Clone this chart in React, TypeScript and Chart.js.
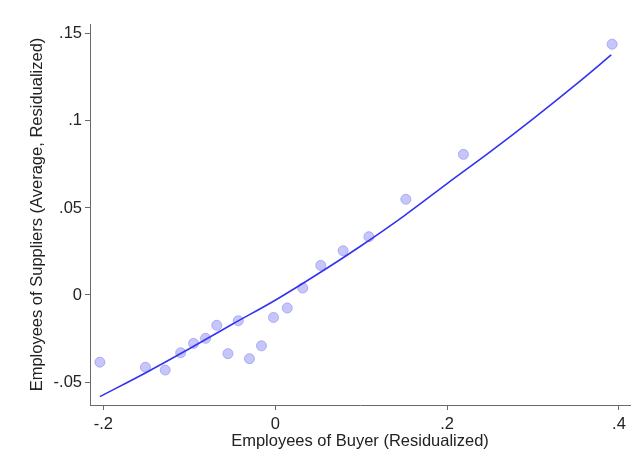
import { useEffect, useRef } from "react"
import { Chart, registerables } from "chart.js"

Chart.register(...registerables)

// binned scatter
const binX = [
  -0.204, -0.151, -0.128, -0.110, -0.095, -0.081, -0.068, -0.055, -0.043, -0.030,
  -0.016, -0.002, 0.014, 0.032, 0.053, 0.079, 0.109, 0.152, 0.219, 0.392,
]
const binY = [
  -0.0386, -0.0415, -0.0431, -0.0332, -0.0278, -0.0249, -0.0174, -0.0337, -0.0148, -0.0366,
  -0.0292, -0.0129, -0.0075, 0.0040, 0.0170, 0.0254, 0.0335, 0.0550, 0.0808, 0.1441,
]

// fitted curve, sampled along the drawn line
const fitX = [-0.204, -0.15, -0.1, -0.05, 0, 0.05, 0.1, 0.15, 0.2, 0.25, 0.3, 0.35, 0.391]
const fitY = [-0.0584, -0.0445, -0.0309, -0.0168, -0.003, 0.0122, 0.0283, 0.0455, 0.064, 0.0822, 0.1012, 0.121, 0.1379]

const xTicks = [-0.2, 0, 0.2, 0.4]
const xTickLabels = ["-.2", "0", ".2", ".4"]
const yTicks = [-0.05, 0, 0.05, 0.1, 0.15]
const yTickLabels = ["-.05", "0", ".05", ".1", ".15"]

const xTitle = "Employees of Buyer (Residualized)"
const yTitle = "Employees of Suppliers (Average, Residualized)"

const FONT = "'Liberation Sans', Arial, sans-serif"
const AXIS = "#6a6a6a"

function labelFor(ticks: number[], labels: string[], v: number) {
  const i = ticks.findIndex((t) => Math.abs(t - v) < 1e-9)
  return i >= 0 ? labels[i] : ""
}

export default function App() {
  const chartRef = useRef<HTMLCanvasElement>(null)
  const chartInstance = useRef<Chart | null>(null)

  useEffect(() => {
    document.body.style.margin = "0"
    if (!chartRef.current) return
    if (chartInstance.current) chartInstance.current.destroy()

    chartInstance.current = new Chart(chartRef.current, {
      type: "scatter",
      data: {
        datasets: [
          {
            label: "bins",
            data: binX.map((x, i) => ({ x, y: binY[i] })),
            backgroundColor: "rgba(160,160,248,0.6)",
            borderColor: "rgba(150,150,242,0.7)",
            borderWidth: 1,
            pointRadius: 5,
            order: 2,
          },
          {
            label: "fit",
            type: "line",
            data: fitX.map((x, i) => ({ x, y: fitY[i] })),
            borderColor: "#3333f0",
            borderWidth: 1.6,
            pointRadius: 0,
            cubicInterpolationMode: "monotone",
            fill: false,
            order: 1,
          },
        ],
      },
      options: {
        animation: false,
        responsive: true,
        maintainAspectRatio: false,
        layout: { padding: { left: 0, right: 7, top: 24, bottom: 0 } },
        plugins: {
          legend: { display: false },
          tooltip: { enabled: false },
        },
        scales: {
          x: {
            type: "linear",
            min: -0.2155,
            max: 0.4128,
            afterBuildTicks: (scale) => {
              scale.ticks = xTicks.map((v) => ({ value: v }))
            },
            afterFit: (scale) => {
              scale.height = 61
            },
            grid: { drawOnChartArea: false, drawTicks: true, tickLength: 5, color: AXIS },
            border: { display: true, color: AXIS, width: 1 },
            ticks: {
              padding: 5,
              color: "#222",
              font: { family: FONT, size: 16.5 },
              callback: (v) => labelFor(xTicks, xTickLabels, Number(v)),
            },
            title: {
              display: true,
              text: xTitle,
              color: "#222",
              font: { family: FONT, size: 16.5 },
              padding: { top: 0, bottom: 15 },
            },
          },
          y: {
            type: "linear",
            min: -0.0632,
            max: 0.1557,
            afterBuildTicks: (scale) => {
              scale.ticks = yTicks.map((v) => ({ value: v }))
            },
            afterFit: (scale) => {
              scale.width = 90
            },
            grid: { drawOnChartArea: false, drawTicks: true, tickLength: 5, color: AXIS },
            border: { display: true, color: AXIS, width: 1 },
            ticks: {
              padding: 3,
              color: "#222",
              font: { family: FONT, size: 16.5 },
              callback: (v) => labelFor(yTicks, yTickLabels, Number(v)),
            },
            title: {
              display: true,
              text: yTitle,
              color: "#222",
              font: { family: FONT, size: 16.5 },
              padding: { top: 28, bottom: 0 },
            },
          },
        },
      },
    })

    return () => {
      if (chartInstance.current) {
        chartInstance.current.destroy()
        chartInstance.current = null
      }
    }
  }, [])

  return (
    <div style={{ position: "fixed", left: 0, top: 0, width: 637, height: 466, background: "#fff" }}>
      <canvas ref={chartRef} />
    </div>
  )
}
